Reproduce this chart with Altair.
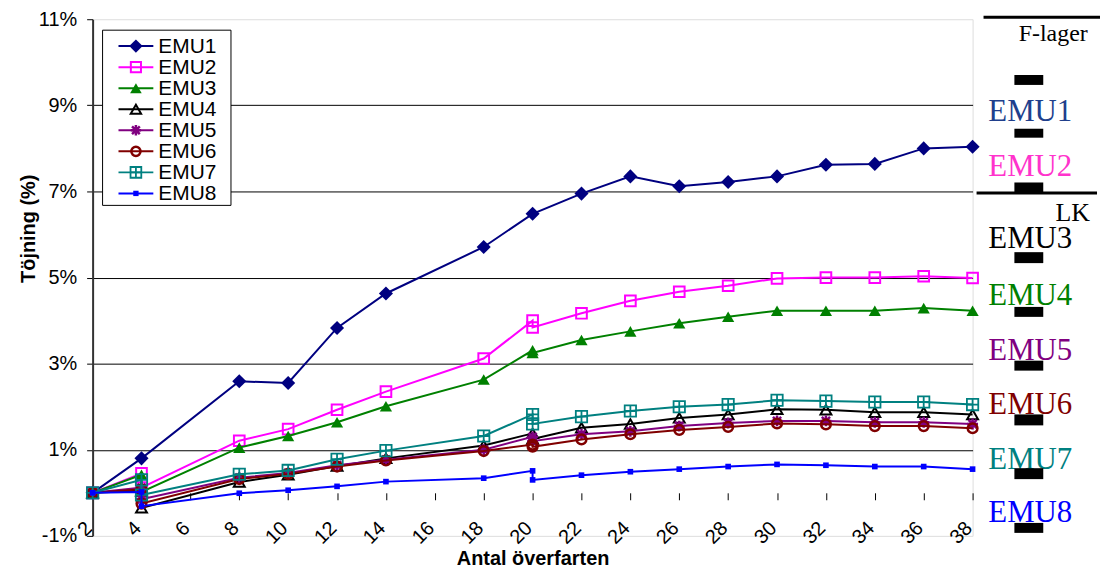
import altair as alt
import pandas as pd

# ---------------- data ----------------
series = ["EMU1", "EMU2", "EMU3", "EMU4", "EMU5", "EMU6", "EMU7", "EMU8"]
x_emu1 = [2, 4, 8, 10, 12, 14, 18, 20, 22, 24, 26, 28, 30, 32, 34, 36, 38]
x_other = [2, 4, 4, 8, 10, 12, 14, 18, 20, 20, 22, 24, 26, 28, 30, 32, 34, 36, 38]

emu1 = [0.0, 0.80, 2.59, 2.55, 3.83, 4.63, 5.71, 6.48, 6.95, 7.35, 7.12, 7.22, 7.35, 7.62, 7.64, 8.00, 8.04]
emu2 = [0.0, 0.45, 0.12, 1.21, 1.48, 1.93, 2.35, 3.12, 4.00, 3.84, 4.17, 4.46, 4.67, 4.81, 4.98, 5.00, 5.00, 5.03, 4.99]
emu3 = [0.0, 0.42, 0.02, 1.05, 1.32, 1.64, 2.01, 2.63, 3.31, 3.25, 3.55, 3.75, 3.94, 4.09, 4.23, 4.23, 4.23, 4.29, 4.23]
emu4 = [0.0, 0.05, -0.35, 0.25, 0.42, 0.62, 0.80, 1.10, 1.38, 1.25, 1.51, 1.60, 1.74, 1.82, 1.94, 1.93, 1.87, 1.87, 1.82]
emu5 = [0.0, 0.12, -0.15, 0.35, 0.46, 0.64, 0.77, 1.00, 1.30, 1.20, 1.36, 1.43, 1.55, 1.62, 1.67, 1.67, 1.64, 1.64, 1.60]
emu6 = [0.0, 0.08, -0.25, 0.32, 0.44, 0.61, 0.75, 0.97, 1.12, 1.07, 1.24, 1.36, 1.46, 1.53, 1.61, 1.59, 1.55, 1.55, 1.50]
emu7 = [0.0, 0.30, -0.05, 0.43, 0.52, 0.78, 0.98, 1.32, 1.82, 1.60, 1.77, 1.90, 2.00, 2.05, 2.15, 2.13, 2.11, 2.11, 2.05]
emu8 = [0.0, 0.02, -0.31, -0.01, 0.06, 0.15, 0.26, 0.34, 0.51, 0.30, 0.41, 0.49, 0.55, 0.61, 0.66, 0.64, 0.61, 0.61, 0.55]

x_ticks = list(range(2, 39, 2))
y_ticks = [-1, 1, 3, 5, 7, 9, 11]

right_labels = ["EMU1", "EMU2", "EMU3", "EMU4", "EMU5", "EMU6", "EMU7", "EMU8"]
top_label = "F-lager"
mid_label = "LK"

# ---------------- styling ----------------
colors = ["#000080", "#FF00FF", "#008000", "#000000", "#800080", "#800000", "#008080", "#0000FF"]
right_colors = ["#203F8C", "#FF33CC", "#000000", "#008000", "#800080", "#800000", "#008080", "#0000FF"]
ASTERISK = "M-1,0L1,0M0,-1L0,1M-0.75,-0.75L0.75,0.75M-0.75,0.75L0.75,-0.75"
SQPLUS = "M-1,-1L1,-1L1,1L-1,1ZM-1,0L1,0M0,-1L0,1"
markers = [
    dict(shape="diamond", filled=True, size=200, strokeWidth=0),
    dict(shape="square", filled=False, size=115, strokeWidth=2),
    dict(shape="triangle-up", filled=True, size=150, strokeWidth=0),
    dict(shape="triangle-up", filled=False, size=120, strokeWidth=2),
    dict(shape=ASTERISK, filled=False, size=120, strokeWidth=2.5),
    dict(shape="circle", filled=False, size=95, strokeWidth=2.5),
    dict(shape=SQPLUS, filled=False, size=130, strokeWidth=1.8),
    dict(shape="square", filled=True, size=32, strokeWidth=0),
]

W, H = 884, 519
SANS = "Liberation Sans"
SERIF = "Liberation Serif"
FS = 20

values = [emu1, emu2, emu3, emu4, emu5, emu6, emu7, emu8]
rows = []
for name, vals in zip(series, values):
    xs = x_emu1 if name == "EMU1" else x_other
    for k, (xv, yv) in enumerate(zip(xs, vals)):
        rows.append({"series": name, "k": k, "x": xv, "y": yv})
df = pd.DataFrame(rows)

x_enc = alt.X(
    "x:Q",
    scale=alt.Scale(domain=[2, 38], nice=False, zero=False),
    axis=alt.Axis(
        values=x_ticks, grid=False, domain=False, offset=-H / 12.0,
        tickSize=7, tickColor="black", tickWidth=1,
        labelAngle=-45, labelAlign="right", labelBaseline="middle",
        labelPadding=25, labelOffset=-4, labelFontSize=FS, labelColor="black",
        labelFlush=False, labelOverlap=False, labelBound=False,
        title="Antal överfarten", titleFontSize=FS, titleFontWeight="bold",
        titleColor="black", titleBaseline="middle", titleY=66,
    ),
)
y_enc = alt.Y(
    "y:Q",
    scale=alt.Scale(domain=[-1, 11], nice=False, zero=False),
    axis=alt.Axis(
        values=y_ticks, labelExpr="datum.value + '%'",
        grid=True,
        gridColor={"condition": {"test": "datum.value === -1 || datum.value === 11", "value": "transparent"}, "value": "black"},
        gridWidth=1,
        domain=True, domainColor="#333333", domainWidth=2,
        tickSize=6, tickColor="black", tickWidth=1,
        labelPadding=10, labelFontSize=FS, labelColor="black",
        labelFlush=False, labelOverlap=False, labelBound=False,
        title="Töjning (%)", titleFontSize=FS, titleFontWeight="bold", titleColor="black",
        titleAngle=270, titleAlign="center", titleBaseline="middle", titleX=-64, titleY=210,
    ),
)

layers = []
for i, name in enumerate(series):
    base = alt.Chart(df).transform_filter(alt.datum.series == name)
    line = base.mark_line(color=colors[i], strokeWidth=2).encode(
        x=x_enc, y=y_enc, order=alt.Order("k:Q"))
    m = markers[i]
    pts = base.mark_point(
        shape=m["shape"], filled=m["filled"], size=m["size"],
        strokeWidth=m["strokeWidth"], color=colors[i], opacity=1,
    ).encode(x=x_enc, y=y_enc)
    layers += [line, pts]

# ---------------- legend ----------------
one = pd.DataFrame({"z": [0]})
layers.append(
    alt.Chart(one).mark_rect(fill="white", stroke="black", strokeWidth=1).encode(
        x=alt.value(10), x2=alt.value(139), y=alt.value(11), y2=alt.value(187))
)
for i, name in enumerate(series):
    yy = 27 + i * 21.14
    m = markers[i]
    layers.append(alt.Chart(one).mark_rule(color=colors[i], strokeWidth=2).encode(
        x=alt.value(26), x2=alt.value(61), y=alt.value(yy)))
    layers.append(alt.Chart(one).mark_point(
        shape=m["shape"], filled=m["filled"], size=m["size"] * 0.9,
        strokeWidth=m["strokeWidth"], color=colors[i], opacity=1,
    ).encode(x=alt.value(43.5), y=alt.value(yy)))
    layers.append(alt.Chart(pd.DataFrame({"t": [name]})).mark_text(
        align="left", baseline="middle", fontSize=FS + 1, font=SANS, color="black",
    ).encode(text="t:N", x=alt.value(66), y=alt.value(yy + 1)))

# ---------------- right-side annotation ----------------
layers.append(alt.Chart(one).mark_rule(color="black", strokeWidth=3).encode(
    x=alt.value(895), x2=alt.value(1020), y=alt.value(-2)))
layers.append(alt.Chart(one).mark_rule(color="black", strokeWidth=3).encode(
    x=alt.value(888), x2=alt.value(1009), y=alt.value(174.5)))
layers.append(alt.Chart(pd.DataFrame({"t": [top_label]})).mark_text(
    align="center", baseline="alphabetic", fontSize=24, font=SERIF, color="black",
).encode(text="t:N", x=alt.value(965), y=alt.value(22)))
layers.append(alt.Chart(pd.DataFrame({"t": [mid_label]})).mark_text(
    align="right", baseline="alphabetic", fontSize=26, font=SERIF, color="black",
).encode(text="t:N", x=alt.value(1002), y=alt.value(203)))
label_base = [102, 157, 230, 287, 342, 397, 452, 505]
for lab, c, yb in zip(right_labels, right_colors, label_base):
    layers.append(alt.Chart(pd.DataFrame({"t": [lab]})).mark_text(
        align="center", baseline="alphabetic", fontSize=31, font=SERIF, color=c,
    ).encode(text="t:N", x=alt.value(942), y=alt.value(yb)))
bars = [(56, 66), (110, 119), (164, 174), (234, 245), (289, 299), (343, 353), (397, 408), (451, 462), (506, 516)]
for (b0, b1) in bars:
    layers.append(alt.Chart(one).mark_rect(color="black").encode(
        x=alt.value(926), x2=alt.value(955), y=alt.value(b0), y2=alt.value(b1)))

chart = alt.layer(*layers).properties(
    width=W, height=H,
    autosize=alt.AutoSizeParams(type="none"),
    padding={"left": 85, "top": 10, "right": 128, "bottom": 32},
).configure_view(
    stroke="#808080", strokeWidth=2
).configure_axis(
    labelFont=SANS, titleFont=SANS
).configure(background="white")

chart.save("out.html", embed_options={"renderer": "svg", "actions": False})
